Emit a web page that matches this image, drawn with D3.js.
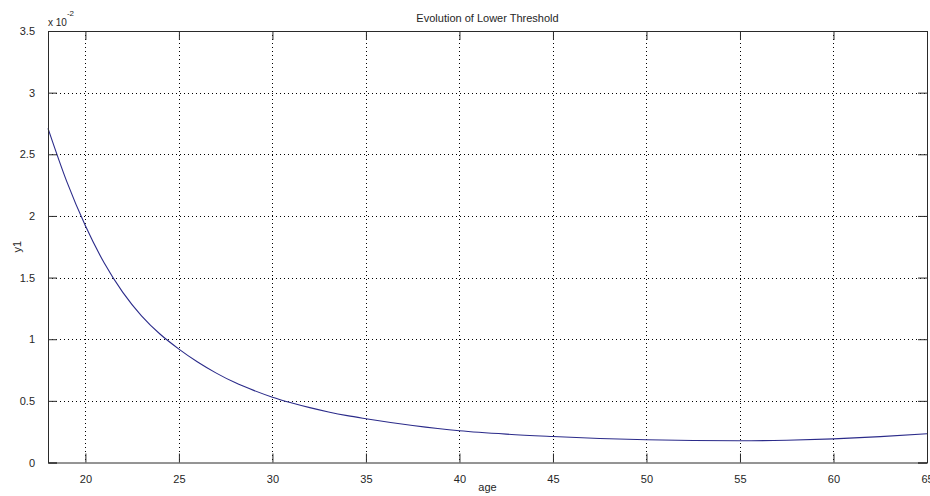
<!DOCTYPE html>
<html>
<head>
<meta charset="utf-8">
<script src="https://cdn.jsdelivr.net/npm/d3@7"></script>
<style>
  html, body { margin: 0; padding: 0; background: #fff; }
  svg { display: block; font-family: Arial, "Liberation Sans", sans-serif; }
</style>
</head>
<body>
<svg id="chart" width="930" height="496"></svg>
<script>
// Lower threshold y1 (in units of 1e-2) as a function of age
const ages = [18, 19, 20, 21, 22, 23, 24, 25, 26, 27, 28, 29, 30, 31, 32, 33, 34, 35,
              37.5, 40, 42.5, 45, 47.5, 50, 52.5, 55, 57.5, 60, 62.5, 65];
const y1 = [2.71, 2.28, 1.92, 1.62, 1.38, 1.19, 1.04, 0.92, 0.815, 0.725, 0.648, 0.585, 0.53,
            0.485, 0.445, 0.41, 0.38, 0.355, 0.30, 0.257, 0.23, 0.211, 0.195, 0.184, 0.178,
            0.176, 0.181, 0.192, 0.21, 0.233];
const xTicks = [20, 25, 30, 35, 40, 45, 50, 55, 60, 65];
const yTicks = [0, 0.5, 1, 1.5, 2, 2.5, 3, 3.5];

const svg = d3.select("#chart");
const plotLeft = 48, plotRight = 927, plotTop = 31, plotBottom = 462.5;

const x = d3.scaleLinear().domain([18, 65]).range([plotLeft, plotRight]);
const y = d3.scaleLinear().domain([0, 3.5]).range([plotBottom, plotTop]);

const axisColor = "#2a2a2a";
const textColor = "#262626";

// dotted grid
const grid = svg.append("g");
grid.selectAll("line.gx").data(xTicks.filter(t => t < 65)).join("line")
  .attr("x1", d => Math.round(x(d)) + 0.5).attr("x2", d => Math.round(x(d)) + 0.5)
  .attr("y1", plotTop).attr("y2", plotBottom)
  .attr("stroke", "#000").attr("stroke-width", 1).attr("stroke-dasharray", "1,3");
grid.selectAll("line.gy").data(yTicks.filter(t => t > 0 && t < 3.5)).join("line")
  .attr("y1", d => Math.round(y(d)) + 0.5).attr("y2", d => Math.round(y(d)) + 0.5)
  .attr("x1", plotLeft).attr("x2", plotRight)
  .attr("stroke", "#000").attr("stroke-width", 1).attr("stroke-dasharray", "1,3");

// curve
const line = d3.line().x((d, i) => x(ages[i])).y(d => y(d)).curve(d3.curveMonotoneX);
svg.append("path").datum(y1)
  .attr("d", line)
  .attr("fill", "none")
  .attr("stroke", "#2b2b8a")
  .attr("stroke-width", 1.1);

// axes (ticks pointing inward, box on all sides)
const tickLen = 9;
const xAxisB = d3.axisBottom(x).tickValues(xTicks).tickSize(-tickLen).tickPadding(tickLen + 4)
  .tickFormat(d3.format("d"));
const xAxisT = d3.axisTop(x).tickValues(xTicks).tickSize(-tickLen).tickFormat("");
const yAxisL = d3.axisLeft(y).tickValues(yTicks).tickSize(-tickLen).tickPadding(tickLen + 4)
  .tickFormat(d => d === 0 ? "0" : d3.format("")(d));
const yAxisR = d3.axisRight(y).tickValues(yTicks).tickSize(-tickLen).tickFormat("");

function styleAxis(g) {
  g.select(".domain").attr("stroke", axisColor);
  g.selectAll(".tick line").attr("stroke", axisColor);
  g.selectAll(".tick text").attr("fill", textColor).style("font-size", "11px")
    .style("font-family", "Arial, 'Liberation Sans', sans-serif");
}

svg.append("g").attr("transform", `translate(0,${plotBottom})`).call(xAxisB).call(styleAxis);
svg.append("g").attr("transform", `translate(0,${plotTop})`).call(xAxisT).call(styleAxis);
svg.append("g").attr("transform", `translate(${plotLeft},0)`).call(yAxisL).call(styleAxis);
svg.append("g").attr("transform", `translate(${plotRight},0)`).call(yAxisR).call(styleAxis);

// exponent label
const expo = svg.append("text").attr("x", 48).attr("y", 26)
  .attr("fill", textColor).style("font-size", "10px");
expo.append("tspan").text("x 10");
expo.append("tspan").attr("dy", -10).style("font-size", "8px").text("-2");

// title and axis labels
svg.append("text").attr("x", (plotLeft + plotRight) / 2).attr("y", 22)
  .attr("text-anchor", "middle").attr("fill", textColor).style("font-size", "11px")
  .text("Evolution of Lower Threshold");
svg.append("text").attr("x", (plotLeft + plotRight) / 2).attr("y", 491)
  .attr("text-anchor", "middle").attr("fill", textColor).style("font-size", "11px")
  .text("age");
svg.append("text").attr("transform", `translate(21,${(plotTop + plotBottom) / 2}) rotate(-90)`)
  .attr("text-anchor", "middle").attr("fill", textColor).style("font-size", "11px")
  .text("y1");
</script>
</body>
</html>
